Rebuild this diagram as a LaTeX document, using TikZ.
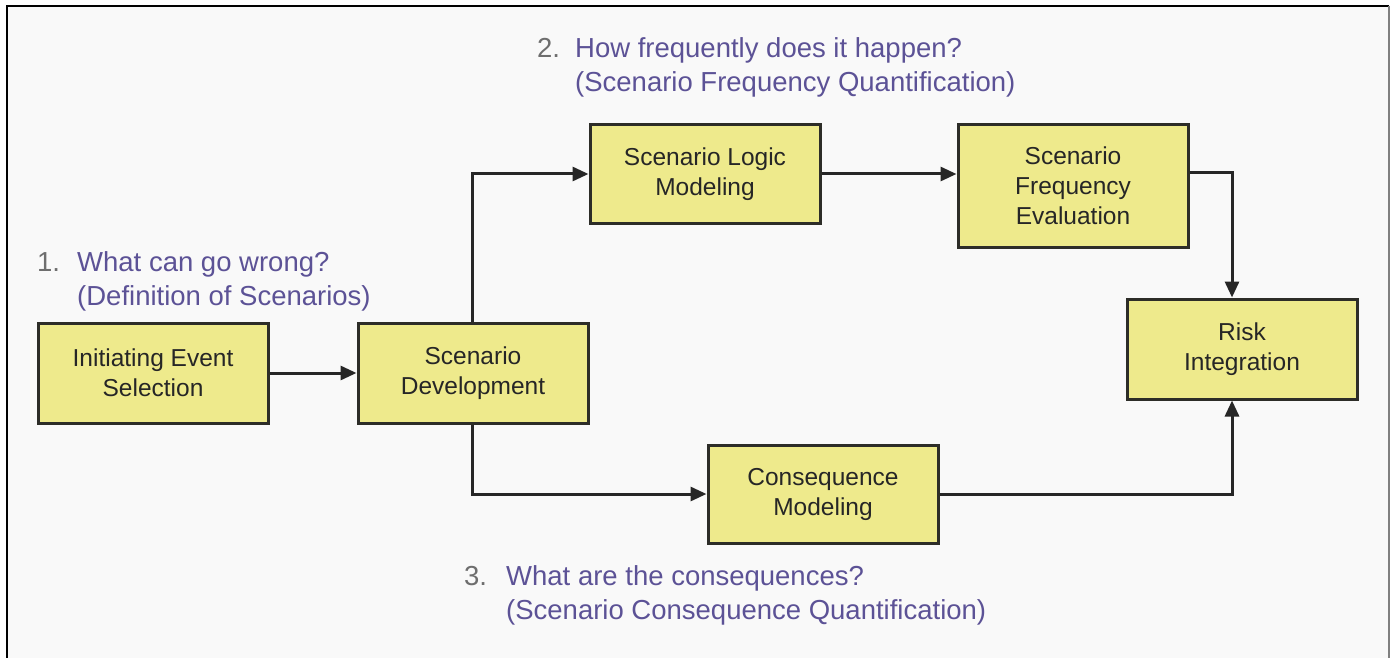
\documentclass[tikz,border=0pt]{standalone}
\usepackage{fontspec}
\setmainfont{Liberation Sans}
\usetikzlibrary{arrows.meta}
\definecolor{boxfill}{RGB}{238,234,140}
\definecolor{boxline}{RGB}{45,45,40}
\definecolor{labtext}{RGB}{92,82,150}
\definecolor{numtext}{RGB}{110,110,110}
\definecolor{bg}{RGB}{249,249,249}
\tikzset{
  stepbox/.style={draw=boxline, line width=3pt, fill=boxfill, align=center,
    minimum width=230pt, font=\fontsize{24.5}{30}\selectfont, text=black!85, inner sep=0pt},
  arr/.style={draw=black!85, line width=3pt, -{Triangle[length=16pt,width=14pt]}},
  question/.style={anchor=north west, align=left, inner sep=0pt,
    font=\fontsize{27.5}{34}\selectfont, text=labtext}
}
\newcommand{\qnum}[1]{\makebox[40pt][l]{\textcolor{numtext}{#1}}}
\begin{document}
\begin{tikzpicture}[x=1pt,y=-1pt]
\useasboundingbox (0,0) rectangle (1390,658);
\fill[white] (0,0) rectangle (1390,658);
\fill[bg] (7,6) rectangle (1389,680);
\draw[black, line width=2.5pt] (7,680) -- (7,6) -- (1389,6);
\draw[gray, line width=2pt] (1389,6) -- (1389,680);

\node[stepbox, minimum height=100pt] (init) at (153,373) {Initiating Event\\Selection};
\node[stepbox, minimum height=100pt] (dev) at (473,373) {Scenario\\Development};
\node[stepbox, minimum height=98pt] (logic) at (705,174) {Scenario Logic\\Modeling};
\node[stepbox, minimum height=122pt] (freq) at (1073,186) {Scenario\\Frequency\\Evaluation};
\node[stepbox, minimum height=100pt] (risk) at (1242,349) {Risk\\Integration};
\node[stepbox, minimum height=98pt] (cons) at (823,494) {Consequence\\Modeling};

\node[question] (q1) at (37,251) {\qnum{1.}What can go wrong?\\\hspace*{40pt}(Definition of Scenarios)};
\node[question] (q2) at (537,37) {\qnum{2.}\hspace*{-2pt}How frequently does it happen?\\\hspace*{38pt}(Scenario Frequency Quantification)};
\node[question] (q3) at (464,565) {\qnum{3.}\hspace*{2pt}What are the consequences?\\\hspace*{42pt}(Scenario Consequence Quantification)};

\coordinate (rtop) at ([xshift=-10pt]risk.north);
\coordinate (rbot) at ([xshift=-10pt]risk.south);
\coordinate (fout) at ([yshift=13pt]freq.east);

\draw[arr] (init.east) -- (dev.west);
\draw[arr] ([xshift=-1pt]dev.north) |- (logic.west);
\draw[arr] (logic.east) -- (logic.east -| freq.west);
\draw[arr] (fout) -| (rtop);
\draw[arr] ([xshift=-1pt]dev.south) |- (cons.west);
\draw[arr] (cons.east) -| (rbot);
\end{tikzpicture}
\end{document}
